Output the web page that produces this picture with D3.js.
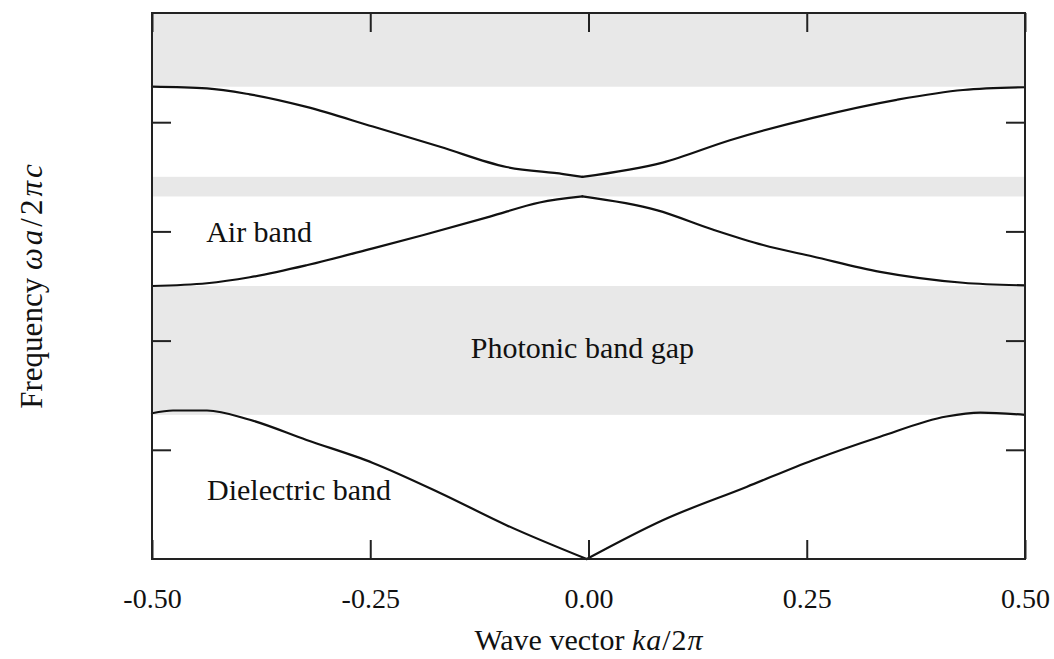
<!DOCTYPE html>
<html>
<head>
<meta charset="utf-8">
<script src="https://cdn.jsdelivr.net/npm/d3@7"></script>
<style>
  html, body { margin: 0; padding: 0; background: #fff; }
  svg { display: block; }
  text { font-family: "Liberation Serif", "DejaVu Serif", serif; fill: #111; }
</style>
</head>
<body>
<svg id="chart" width="1054" height="659"></svg>
<script>
// Wave vector samples (ka/2π) and normalized frequency (ωa/2πc) per band
const dielectricK = [-0.5, -0.476, -0.437, -0.388, -0.323, -0.247, -0.170, -0.094, -0.002, 0.085, 0.181, 0.257, 0.334, 0.410, 0.449, 0.5];
const dielectricW = [0.267, 0.272, 0.272, 0.255, 0.218, 0.176, 0.121, 0.062, 0.0, 0.071, 0.132, 0.181, 0.224, 0.261, 0.268, 0.264];

const airLowerK = [-0.5, -0.437, -0.388, -0.323, -0.247, -0.190, -0.113, -0.056, -0.007, 0.078, 0.143, 0.200, 0.257, 0.334, 0.429, 0.5];
const airLowerW = [0.500, 0.505, 0.516, 0.538, 0.569, 0.593, 0.627, 0.653, 0.664, 0.639, 0.603, 0.575, 0.554, 0.526, 0.506, 0.501];

const airUpperK = [-0.5, -0.437, -0.388, -0.323, -0.247, -0.170, -0.094, -0.029, -0.007, 0.085, 0.162, 0.257, 0.353, 0.429, 0.5];
const airUpperW = [0.865, 0.862, 0.851, 0.828, 0.792, 0.755, 0.718, 0.705, 0.700, 0.726, 0.767, 0.808, 0.841, 0.859, 0.864];

// Frequency ranges with no propagating modes
const gapLow  = [0.264, 0.664, 0.865];
const gapHigh = [0.500, 0.700, 1.000];

const xTicks = [-0.5, -0.25, 0, 0.25, 0.5];
const yTicks = [0.2, 0.4, 0.6, 0.8];

const bandLabels = ["Air band", "Photonic band gap", "Dielectric band"];
const labelK = [-0.438, -0.007, -0.437];
const labelW = [0.581, 0.368, 0.108];
const labelAnchor = ["start", "middle", "start"];

const svg = d3.select("#chart");
const margin = { left: 152, top: 13, right: 29, bottom: 100 };
const W = 1054 - margin.left - margin.right;
const H = 659 - margin.top - margin.bottom;

const x = d3.scaleLinear().domain([-0.5, 0.5]).range([0, W]);
const y = d3.scaleLinear().domain([0, 1]).range([H, 0]);

const g = svg.append("g").attr("transform", `translate(${margin.left},${margin.top})`);

// shaded gaps
g.selectAll("rect.gap")
  .data(d3.zip(gapLow, gapHigh))
  .join("rect")
  .attr("class", "gap")
  .attr("x", 0)
  .attr("width", W)
  .attr("y", d => y(d[1]))
  .attr("height", d => y(d[0]) - y(d[1]))
  .attr("fill", "#e8e8e8");

// dispersion curves: each band is smooth on either side of its Γ-point cusp
const line = d3.line().x(d => x(d[0])).y(d => y(d[1])).curve(d3.curveMonotoneX);
const splitAtCusp = (ks, ws) => {
  const pts = d3.zip(ks, ws);
  const c = d3.minIndex(ks, k => Math.abs(k));
  return [pts.slice(0, c + 1), pts.slice(c)];
};
const halves = [
  ...splitAtCusp(dielectricK, dielectricW),
  ...splitAtCusp(airLowerK, airLowerW),
  ...splitAtCusp(airUpperK, airUpperW)
];
g.selectAll("path.band")
  .data(halves)
  .join("path")
  .attr("class", "band")
  .attr("d", line)
  .attr("fill", "none")
  .attr("stroke", "#111")
  .attr("stroke-width", 2.2)
  .attr("stroke-linejoin", "round")
  .attr("stroke-linecap", "round");

// inward ticks on all four sides
const tickLen = 19;
const axisStyle = sel => {
  sel.select(".domain").remove();
  sel.selectAll(".tick line").attr("stroke", "#222").attr("stroke-width", 2);
};
const fmt = d => d3.format(".2f")(d).replace("−", "-");
g.append("g").attr("transform", `translate(0,${H})`)
  .call(d3.axisBottom(x).tickValues(xTicks).tickSizeInner(-tickLen).tickSizeOuter(0).tickPadding(29).tickFormat(fmt))
  .call(axisStyle)
  .call(s => s.selectAll(".tick text").attr("font-size", 28).attr("fill", "#111")
    .attr("font-family", "Liberation Serif, serif"));
g.append("g")
  .call(d3.axisTop(x).tickValues(xTicks).tickSizeInner(-tickLen).tickSizeOuter(0).tickFormat(""))
  .call(axisStyle);
g.append("g")
  .call(d3.axisLeft(y).tickValues(yTicks).tickSizeInner(-tickLen).tickSizeOuter(0).tickFormat(""))
  .call(axisStyle);
g.append("g").attr("transform", `translate(${W},0)`)
  .call(d3.axisRight(y).tickValues(yTicks).tickSizeInner(-tickLen).tickSizeOuter(0).tickFormat(""))
  .call(axisStyle);

// frame
g.append("rect")
  .attr("x", 0).attr("y", 0).attr("width", W).attr("height", H)
  .attr("fill", "none").attr("stroke", "#222").attr("stroke-width", 2);

// band annotations
g.selectAll("text.label")
  .data(bandLabels)
  .join("text")
  .attr("class", "label")
  .attr("x", (d, i) => x(labelK[i]))
  .attr("y", (d, i) => y(labelW[i]))
  .attr("text-anchor", (d, i) => labelAnchor[i])
  .attr("font-size", 30)
  .text(d => d);

// axis titles
const xTitle = svg.append("text")
  .attr("x", margin.left + W / 2)
  .attr("y", 650)
  .attr("text-anchor", "middle")
  .attr("font-size", 30);
xTitle.append("tspan").text("Wave vector ");
xTitle.append("tspan").attr("font-style", "italic").attr("letter-spacing", 1).text("ka");
xTitle.append("tspan").attr("letter-spacing", 1).text("/2");
xTitle.append("tspan").attr("font-style", "italic").text("π");

const yTitle = svg.append("text")
  .attr("transform", `translate(42,${margin.top + H / 2 - 1}) rotate(-90)`)
  .attr("text-anchor", "middle")
  .attr("font-size", 31);
yTitle.append("tspan").text("Frequency ");
yTitle.append("tspan").attr("font-style", "italic").attr("letter-spacing", 3).text("ωa");
yTitle.append("tspan").attr("letter-spacing", 3).text("/2");
yTitle.append("tspan").attr("font-style", "italic").attr("letter-spacing", 3).text("πc");
</script>
</body>
</html>
